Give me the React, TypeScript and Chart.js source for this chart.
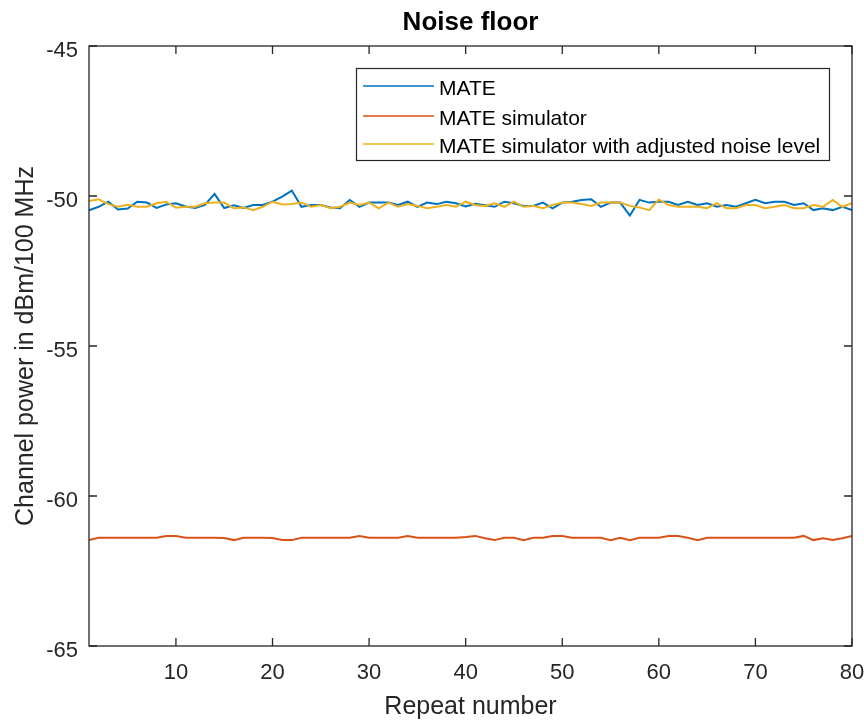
import React, { useEffect, useRef } from 'react';
import { Chart, registerables } from 'chart.js';

Chart.register(...registerables);

const chartTitle = 'Noise floor';
const xAxisLabel = 'Repeat number';
const yAxisLabel = 'Channel power in dBm/100 MHz';

const repeatNumbers = Array.from({ length: 80 }, (_, i) => i + 1);
const xTickValues = [10, 20, 30, 40, 50, 60, 70, 80];
const yMin = -65;
const yMax = -45;
const yStep = 5;

const seriesNames = ['MATE', 'MATE simulator', 'MATE simulator with adjusted noise level'];
const seriesColors = ['#0072BD', '#D95319', '#EDB120'];

const mate = [
  -50.48, -50.36, -50.19, -50.45, -50.42, -50.19, -50.22, -50.40, -50.28, -50.24,
  -50.35, -50.40, -50.30, -49.93, -50.40, -50.31, -50.40, -50.30, -50.30, -50.19,
  -50.02, -49.82, -50.36, -50.30, -50.30, -50.38, -50.41, -50.13, -50.36, -50.22,
  -50.22, -50.22, -50.30, -50.19, -50.36, -50.22, -50.27, -50.19, -50.24, -50.35,
  -50.26, -50.31, -50.36, -50.19, -50.24, -50.33, -50.33, -50.22, -50.41, -50.22,
  -50.19, -50.13, -50.11, -50.36, -50.22, -50.22, -50.65, -50.13, -50.22, -50.19,
  -50.19, -50.30, -50.19, -50.30, -50.24, -50.36, -50.30, -50.36, -50.24, -50.13,
  -50.24, -50.19, -50.19, -50.30, -50.24, -50.47, -50.41, -50.47, -50.36, -50.47,
];

const mateSimulator = [
  -61.47, -61.39, -61.39, -61.39, -61.39, -61.39, -61.39, -61.39, -61.33, -61.33,
  -61.39, -61.39, -61.39, -61.39, -61.40, -61.47, -61.39, -61.39, -61.39, -61.40,
  -61.47, -61.47, -61.39, -61.39, -61.39, -61.39, -61.39, -61.39, -61.33, -61.39,
  -61.39, -61.39, -61.39, -61.33, -61.39, -61.39, -61.39, -61.39, -61.39, -61.37,
  -61.33, -61.41, -61.47, -61.39, -61.39, -61.47, -61.39, -61.39, -61.33, -61.33,
  -61.39, -61.39, -61.39, -61.39, -61.47, -61.39, -61.47, -61.39, -61.39, -61.39,
  -61.33, -61.33, -61.39, -61.47, -61.39, -61.39, -61.39, -61.39, -61.39, -61.39,
  -61.39, -61.39, -61.39, -61.39, -61.33, -61.47, -61.41, -61.47, -61.41, -61.33,
];

const mateSimulatorAdjusted = [
  -50.17, -50.11, -50.27, -50.36, -50.29, -50.36, -50.36, -50.24, -50.19, -50.39,
  -50.36, -50.36, -50.24, -50.22, -50.22, -50.41, -50.38, -50.47, -50.36, -50.19,
  -50.28, -50.27, -50.22, -50.36, -50.30, -50.41, -50.36, -50.22, -50.30, -50.22,
  -50.41, -50.22, -50.36, -50.27, -50.33, -50.41, -50.36, -50.30, -50.36, -50.19,
  -50.30, -50.33, -50.24, -50.36, -50.19, -50.36, -50.33, -50.41, -50.30, -50.22,
  -50.22, -50.27, -50.33, -50.22, -50.22, -50.22, -50.33, -50.38, -50.47, -50.12,
  -50.30, -50.36, -50.36, -50.36, -50.41, -50.24, -50.41, -50.41, -50.30, -50.30,
  -50.41, -50.36, -50.30, -50.41, -50.41, -50.30, -50.36, -50.13, -50.36, -50.24,
];

const FONT = '"Liberation Sans", Arial, Helvetica, sans-serif';
const AXIS_COLOR = '#262626';

const framePlugin = {
  id: 'matlabFrame',
  afterDraw(chart: any) {
    const { ctx, chartArea } = chart;
    const { left, right, top, bottom } = chartArea;
    const xs = chart.scales.x;
    const ys = chart.scales.y;
    ctx.save();

    // axes box
    ctx.strokeStyle = AXIS_COLOR;
    ctx.lineWidth = 1.3;
    ctx.strokeRect(left, top, right - left, bottom - top);

    // inward ticks on all four sides
    const tl = 8;
    ctx.beginPath();
    xs.ticks.forEach((t: any) => {
      const px = xs.getPixelForValue(t.value);
      ctx.moveTo(px, bottom);
      ctx.lineTo(px, bottom - tl);
      ctx.moveTo(px, top);
      ctx.lineTo(px, top + tl);
    });
    ys.ticks.forEach((t: any) => {
      const py = ys.getPixelForValue(t.value);
      ctx.moveTo(left, py);
      ctx.lineTo(left + tl, py);
      ctx.moveTo(right, py);
      ctx.lineTo(right - tl, py);
    });
    ctx.stroke();

    // title centred over the axes
    ctx.fillStyle = '#000';
    ctx.font = `bold 26px ${FONT}`;
    ctx.textAlign = 'center';
    ctx.textBaseline = 'middle';
    ctx.fillText(chartTitle, (left + right) / 2, top - 23);

    // legend (north-east, inside the axes)
    ctx.font = `21px ${FONT}`;
    const datasets = chart.data.datasets;
    let maxW = 0;
    datasets.forEach((d: any) => {
      maxW = Math.max(maxW, ctx.measureText(d.label).width);
    });
    const lineLen = 71;
    const boxW = 7 + lineLen + 5 + maxW + 9;
    const boxH = 92;
    const boxRight = right - 23;
    const boxLeft = Math.round(boxRight - boxW);
    const boxTop = top + 22;
    ctx.fillStyle = '#fff';
    ctx.fillRect(boxLeft, boxTop, boxRight - boxLeft, boxH);
    ctx.strokeStyle = AXIS_COLOR;
    ctx.lineWidth = 1.2;
    ctx.strokeRect(boxLeft + 0.5, boxTop + 0.5, boxRight - boxLeft, boxH);
    const rowOffsets = [18, 48, 76];
    datasets.forEach((d: any, i: number) => {
      const y = boxTop + rowOffsets[i];
      ctx.strokeStyle = d.borderColor;
      ctx.lineWidth = 1.6;
      ctx.beginPath();
      ctx.moveTo(boxLeft + 7, y);
      ctx.lineTo(boxLeft + 7 + lineLen, y);
      ctx.stroke();
      ctx.fillStyle = '#000';
      ctx.textAlign = 'left';
      ctx.textBaseline = 'middle';
      ctx.fillText(d.label, boxLeft + 7 + lineLen + 5, y + 3);
    });

    ctx.restore();
  },
};

export default function App() {
  const canvasRef = useRef<HTMLCanvasElement | null>(null);

  useEffect(() => {
    if (!canvasRef.current) return;
    const seriesValues = [mate, mateSimulator, mateSimulatorAdjusted];
    const drawOrder = [3, 2, 1];
    const chart = new Chart(canvasRef.current, {
      type: 'line',
      data: {
        datasets: seriesValues.map((vals, i) => ({
          label: seriesNames[i],
          data: repeatNumbers.map((x, j) => ({ x, y: vals[j] })),
          borderColor: seriesColors[i],
          backgroundColor: seriesColors[i],
          borderWidth: 2,
          pointRadius: 0,
          tension: 0,
          fill: false,
          order: drawOrder[i],
        })),
      },
      options: {
        responsive: false,
        animation: false,
        layout: { padding: { top: 46, right: 12, left: 0, bottom: 0 } },
        plugins: {
          legend: { display: false },
          title: { display: false },
          tooltip: { enabled: false },
        },
        scales: {
          x: {
            type: 'linear',
            min: 1,
            max: 80,
            afterBuildTicks: (scale: any) => {
              scale.ticks = xTickValues.map((v) => ({ value: v }));
            },
            afterFit: (scale: any) => {
              scale.height = 74;
              scale.paddingLeft = 0;
              scale.paddingRight = 0;
            },
            grid: { display: false, drawTicks: false },
            border: { display: false },
            ticks: {
              autoSkip: false,
              maxRotation: 0,
              padding: 14,
              color: AXIS_COLOR,
              font: { family: FONT, size: 22 },
            },
            title: {
              display: true,
              text: xAxisLabel,
              color: AXIS_COLOR,
              font: { family: FONT, size: 25, lineHeight: 1 },
              padding: { top: 0, bottom: 0 },
            },
          },
          y: {
            type: 'linear',
            min: yMin,
            max: yMax,
            afterFit: (scale: any) => {
              scale.width = 89;
              scale.paddingTop = 0;
              scale.paddingBottom = 0;
            },
            grid: { display: false, drawTicks: false },
            border: { display: false },
            ticks: {
              stepSize: yStep,
              padding: 11,
              labelOffset: 5,
              color: AXIS_COLOR,
              font: { family: FONT, size: 22 },
            },
            title: {
              display: true,
              text: yAxisLabel,
              color: AXIS_COLOR,
              font: { family: FONT, size: 25, lineHeight: 1 },
              padding: { top: 13.5, bottom: 0 },
            },
          },
        },
      },
      plugins: [framePlugin],
    } as any);
    return () => chart.destroy();
  }, []);

  return (
    <div style={{ position: 'fixed', left: 0, top: 0, width: 864, height: 720, background: '#fff' }}>
      <canvas ref={canvasRef} width={864} height={720} />
    </div>
  );
}
